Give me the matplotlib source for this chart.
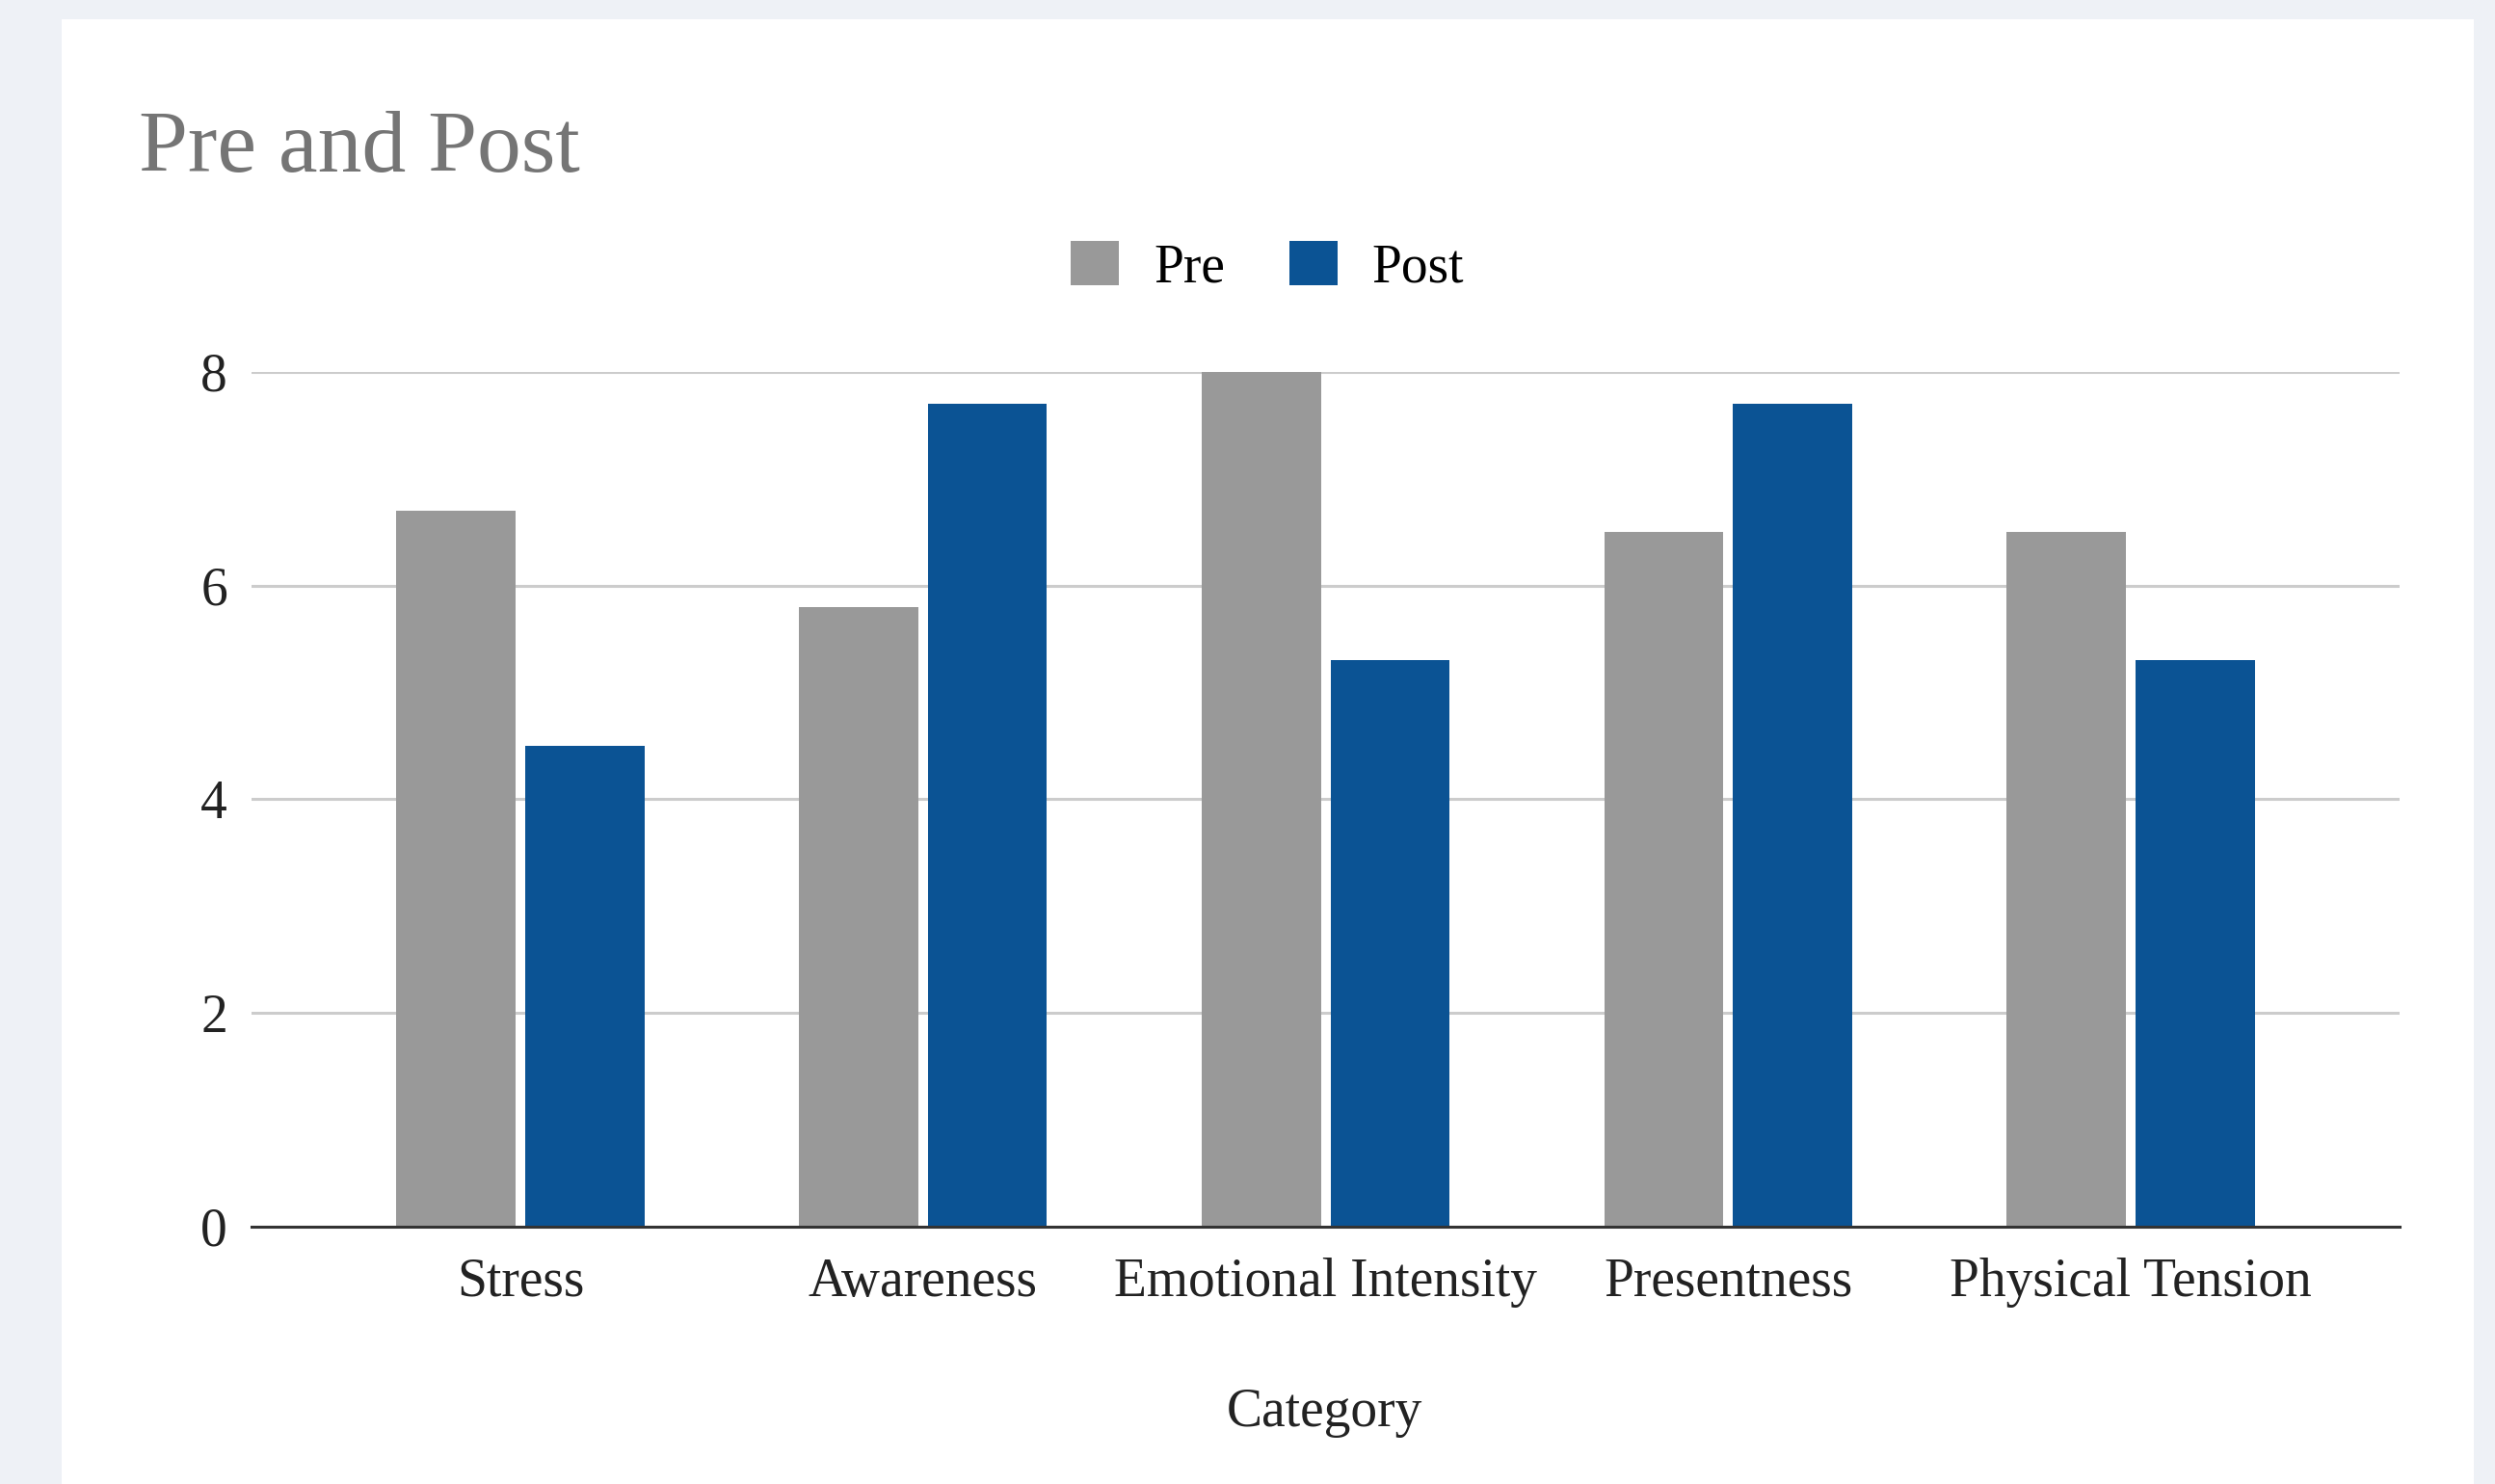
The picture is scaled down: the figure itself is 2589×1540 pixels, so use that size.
import matplotlib.pyplot as plt
import numpy as np
from matplotlib.patches import Rectangle, Patch

# data
categories = ['Stress', 'Awareness', 'Emotional Intensity', 'Presentness', 'Physical Tension']
pre_values = [6.7, 5.8, 8.0, 6.5, 6.5]
post_values = [4.5, 7.7, 5.3, 7.7, 5.3]
y_ticks = [0, 2, 4, 6, 8]

PRE_COLOR = '#999999'
POST_COLOR = '#0b5394'

plt.rcParams['font.family'] = ['Liberation Serif', 'DejaVu Serif']

fig = plt.figure(figsize=(25.89, 15.40), dpi=100)
fig.patch.set_facecolor('#eef1f6')
# white card behind the chart
fig.patches.append(Rectangle((0.0247, 0.0), 0.9668, 0.987, transform=fig.transFigure,
                             facecolor='white', edgecolor='none', zorder=-1))

ax = fig.add_axes([0.1008, 0.1734, 0.861, 0.576])
ax.set_facecolor('white')

x = np.arange(len(categories))
w = 0.296
ax.bar(x - 0.16, pre_values, w, color=PRE_COLOR, zorder=3)
ax.bar(x + 0.16, post_values, w, color=POST_COLOR, zorder=3)

ax.set_xlim(-0.668, len(categories) - 1 + 0.668)
ax.set_ylim(0, 8)
ax.set_yticks(y_ticks)
ax.set_xticks(x)
ax.set_xticklabels(categories)
ax.tick_params(axis='both', length=0, labelsize=40, colors='#222222')
ax.tick_params(axis='x', pad=23)
ax.tick_params(axis='y', pad=18)
ax.yaxis.grid(True, color='#cccccc', linewidth=2.2, zorder=0)
ax.set_axisbelow(True)
for side in ['top', 'right', 'left']:
    ax.spines[side].set_visible(False)
ax.spines['bottom'].set_color('#333333')
ax.spines['bottom'].set_linewidth(2.2)
ax.spines['bottom'].set_zorder(4)

fig.text(0.0556, 0.899, 'Pre and Post', fontsize=66, color='#757575', va='center', ha='left')
fig.text(0.531, 0.048, 'Category', fontsize=40, color='#222222', va='center', ha='center')

handles = [Patch(facecolor=PRE_COLOR, label='Pre'), Patch(facecolor=POST_COLOR, label='Post')]
fig.legend(handles=handles, loc='center', bbox_to_anchor=(0.508, 0.820), ncol=2,
           frameon=False, fontsize=40, handlelength=0.9, handleheight=0.9,
           handletextpad=0.65, columnspacing=1.2)

fig.savefig('out.png', dpi=100, facecolor=fig.get_facecolor())
